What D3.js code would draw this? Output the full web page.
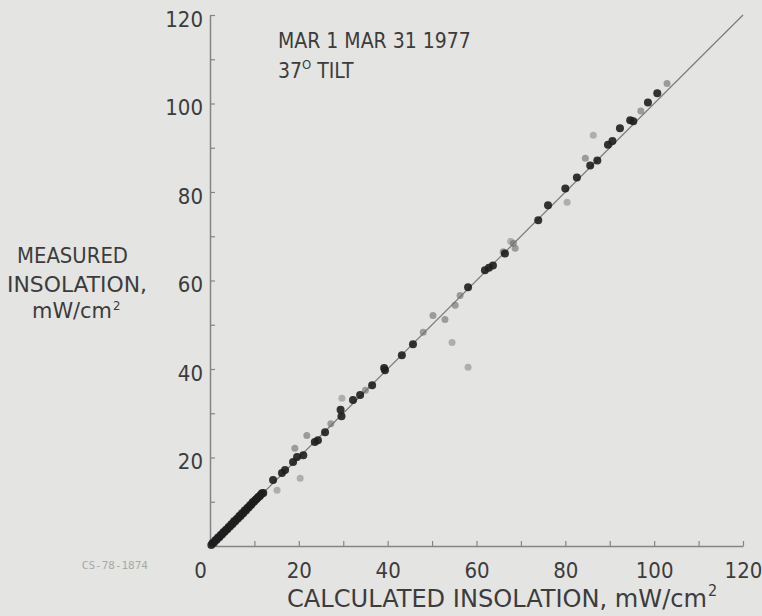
<!DOCTYPE html>
<html>
<head>
<meta charset="utf-8">
<script src="https://cdn.jsdelivr.net/npm/d3@7"></script>
<style>
  body { margin: 0; background: #e4e4e2; }
  svg { display: block; }
  .lbl { font-family: "Liberation Sans Narrow", "DejaVu Sans Condensed", "Roboto", sans-serif; font-stretch: condensed; fill: #3c3c3c; }
</style>
</head>
<body>
<svg id="chart" width="762" height="616"></svg>
<script>
// calculated vs measured insolation, mW/cm2
const darkPoints = [
  [0.3,0.2],[0.6,0.7],[0.9,0.8],[1.2,1.3],[1.5,1.4],[1.8,1.9],[2.1,2.0],[2.4,2.5],[2.7,2.6],[3.0,3.1],
  [3.3,3.2],[3.6,3.7],[3.9,3.8],[4.2,4.3],[4.5,4.4],[4.8,4.9],[5.1,5.0],[5.4,5.6],[5.7,5.6],[6.0,6.1],
  [6.3,6.2],[6.6,6.8],[6.9,6.8],[7.2,7.4],[7.5,7.4],[7.8,8.0],[8.1,8.0],[8.4,8.6],[8.7,8.7],[9.0,9.2],
  [9.3,9.3],[9.6,9.9],[9.9,10.0],[10.2,10.4],[10.5,10.6],[10.8,11.0],[11.1,11.2],[11.4,11.5],[11.7,11.9],[12.0,12.0],
  [14.2,14.9],[16.2,16.5],[16.9,17.2],[18.7,19.0],[19.6,20.1],[21.0,20.5],[23.6,23.5],[24.3,23.9],[25.9,25.7],
  [29.6,29.3],[29.4,30.8],[32.2,33.0],[33.8,34.1],[36.5,36.3],[39.4,39.7],[39.2,40.2],[43.2,43.1],[45.7,45.6],
  [58.1,58.5],[61.9,62.3],[62.8,62.9],[63.7,63.4],[66.4,66.1],[73.9,73.6],[76.1,77.0],[80.0,80.8],[82.6,83.3],
  [85.6,86.0],[87.2,87.1],[89.6,90.7],[90.6,91.5],[92.3,94.4],[94.6,96.2],[95.3,96.0],[98.6,100.2],[100.7,102.3]
];
const midPoints = [
  [19.1,22.1],[21.8,25.0],[27.2,27.6],[35.0,35.2],[48.0,48.3],[50.2,52.1],[52.9,51.2],[55.2,54.4],
  [56.3,56.6],[66.0,66.5],[68.3,68.4],[68.7,67.3],[84.5,87.6],[97.0,98.3],[102.9,104.5]
];
const faintPoints = [
  [20.3,15.3],[15.1,12.6],[29.7,33.4],[54.5,46.0],[58.1,40.4],[80.4,77.7],[86.3,92.8],[67.7,68.8]
];
const diagonal = [[0,0],[120,120]];
const tickValues = [0,10,20,30,40,50,60,70,80,90,100,110,120];
const titleLines = ["MAR 1 MAR 31 1977", "37"];

const svg = d3.select("#chart");

svg.append("rect").attr("width", 762).attr("height", 616).attr("fill", "#e4e4e2");

const x = d3.scaleLinear().domain([0, 120]).range([210, 743]);
const y = d3.scaleLinear().domain([0, 120]).range([546, 15]);

// Add axes
const xAxis = svg.append("g")
  .attr("transform", `translate(0,${y(0)})`)
  .call(d3.axisBottom(x)
    .tickValues(tickValues)
    .tickSizeInner(-5).tickSizeOuter(0).tickPadding(16)
    .tickFormat(d => d % 20 === 0 ? d : ""));

const yAxis = svg.append("g")
  .attr("transform", `translate(${x(0)},0)`)
  .call(d3.axisLeft(y)
    .tickValues(tickValues)
    .tickSizeInner(-5).tickSizeOuter(0).tickPadding(7)
    .tickFormat(d => d % 20 === 0 && d > 0 ? d : ""));

[xAxis, yAxis].forEach(g => {
  g.select(".domain").attr("stroke", "#858585").attr("stroke-width", 1.5);
  g.selectAll(".tick line").attr("stroke", "#858585").attr("stroke-width", 1.2);
  g.selectAll(".tick text").attr("class", "lbl").attr("font-size", 22);
});
xAxis.selectAll(".tick text").filter(d => d === 0).attr("dx", -10);
yAxis.selectAll(".tick text").attr("dy", "0.5em");

// 1:1 line
svg.append("path")
  .datum(diagonal)
  .attr("fill", "none")
  .attr("stroke", "#7a7a7a")
  .attr("stroke-width", 1.2)
  .attr("d", d3.line().x(d => x(d[0])).y(d => y(d[1])));

const addDots = (data, r, color, opacity) => {
  svg.append("g").selectAll("circle")
    .data(data)
    .enter()
    .append("circle")
    .attr("cx", d => x(d[0]))
    .attr("cy", d => y(d[1]))
    .attr("r", r)
    .attr("fill", color)
    .style("opacity", opacity);
};
addDots(faintPoints, 3.5, "#8a8a8a", 0.6);
addDots(midPoints, 3.5, "#6a6a6a", 0.6);
addDots(darkPoints, 4, "#1e1e1e", 0.9);

// title
svg.append("text").attr("class", "lbl").attr("font-size", 21)
  .attr("x", 278).attr("y", 48).text(titleLines[0]);
const t2 = svg.append("text").attr("class", "lbl").attr("font-size", 21)
  .attr("x", 278).attr("y", 78);
t2.append("tspan").text(titleLines[1]);
t2.append("tspan").attr("font-size", 13).attr("dy", -9).text("O");
t2.append("tspan").attr("dy", 9).text(" TILT");

// y label (condensed lettering in the scan)
const yLabel = [["MEASURED", 17, 263, 111], ["INSOLATION,", 7, 292, 140], ["mW/cm", 32, 318, 80]];
yLabel.forEach(([s, lx, ly, len], i) => {
  const t = svg.append("text").attr("class", "lbl").attr("font-size", 21)
    .attr("x", lx).attr("y", ly);
  t.append("tspan").attr("textLength", len).attr("lengthAdjust", "spacingAndGlyphs").text(s);
  if (i === 2) t.append("tspan").attr("font-size", 13).attr("dy", -8).attr("dx", 1).text("2");
});

// x label
const xl = svg.append("text").attr("class", "lbl").attr("font-size", 25)
  .attr("x", 287).attr("y", 607);
xl.append("tspan")
  .attr("textLength", 420).attr("lengthAdjust", "spacingAndGlyphs")
  .text("CALCULATED INSOLATION, mW/cm");
xl.append("tspan").attr("font-size", 16).attr("dy", -11).attr("dx", 1).text("2");

// figure number
svg.append("text")
  .attr("x", 148).attr("y", 569)
  .attr("text-anchor", "end")
  .attr("font-family", "DejaVu Sans Mono, monospace")
  .attr("font-size", 11)
  .attr("fill", "#a8a8a8")
  .text("CS-78-1874");
</script>
</body>
</html>
